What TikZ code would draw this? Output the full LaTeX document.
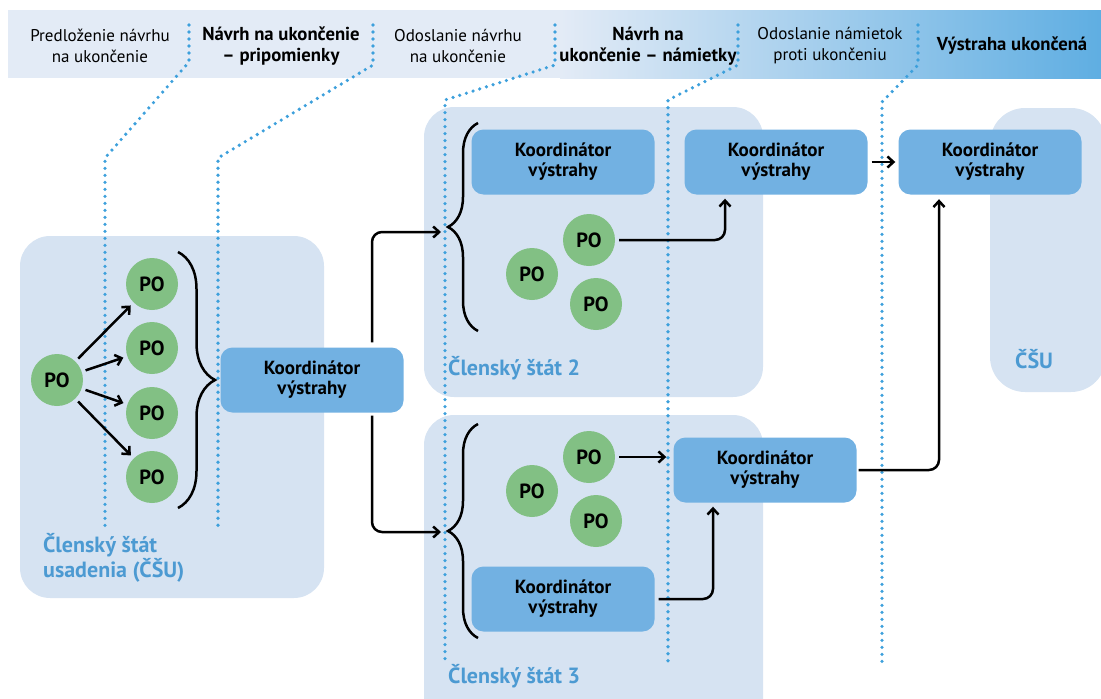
\documentclass[tikz,border=0pt]{standalone}
\usepackage{fontspec}
\setmainfont{PT Sans}
\usetikzlibrary{arrows.meta,decorations.pathreplacing}

\definecolor{hdrlight}{HTML}{E3EBF6}
\definecolor{hdrblue}{HTML}{5FAEE2}
\definecolor{statebg}{HTML}{D6E3F2}
\definecolor{koordblue}{HTML}{72B1E2}
\definecolor{pogreen}{HTML}{82C084}
\definecolor{dotblue}{HTML}{3DA0DC}
\definecolor{labelblue}{HTML}{4C9AD2}

\tikzset{
  po/.style={circle,fill=pogreen,minimum size=52pt,inner sep=0pt,font=\fontsize{20.5}{20}\selectfont\bfseries},
  koord/.style={fill=koordblue,rounded corners=12pt,minimum width=183pt,minimum height=65pt,align=center,inner sep=0pt,text depth=4pt,font=\fontsize{19}{20}\selectfont\bfseries},
  hdr/.style={align=center,font=\fontsize{17}{21}\selectfont},
  hdrbold/.style={align=center,font=\fontsize{18.7}{21}\selectfont\bfseries},
  statelabel/.style={text=labelblue,align=left,inner sep=0pt,font=\fontsize{22}{25}\selectfont\bfseries},
  sep/.style={dotblue,line width=3.6pt,line cap=round,dash pattern=on 0pt off 7pt},
  arr/.style={line width=2.5pt,-{Straight Barb[length=6pt,width=11pt]}},
  curly/.style={line width=2.5pt,decorate,decoration={brace,amplitude=#1}},
}

\begin{document}
\begin{tikzpicture}[x=1pt,y=-1pt]
\useasboundingbox (0,0) rectangle (1101,699);

% header band
\fill[hdrlight] (8,10) rectangle (561,78);
\shade[left color=hdrlight,right color=hdrblue] (560,10) rectangle (1101,78);
\node[hdr] (h1) at (100,46) {Predloženie návrhu\\na ukončenie};
\node[hdrbold] (h2) at (281,46) {Návrh na ukončenie\\– pripomienky};
\node[hdr] (h3) at (458,46) {Odoslanie návrhu\\na ukončenie};
\node[hdrbold] (h4) at (648,46) {Návrh na\\ukončenie – námietky};
\node[hdr] (h5) at (830,46) {Odoslanie námietok\\proti ukončeniu};
\node[hdrbold] (h6) at (1012,46) {Výstraha ukončená};

% member states
\fill[statebg,rounded corners=30pt] (20,236) rectangle (324,598);
\fill[statebg,rounded corners=30pt] (424,107) rectangle (763,397);
\fill[statebg,rounded corners=30pt] (424,415) rectangle (763,730);
\fill[statebg,rounded corners=35pt] (990,108) rectangle (1106,392);
\node[statelabel,anchor=north west] (lab1) at (43,533) {Členský štát\\usadenia (ČŠU)};
\node[statelabel,anchor=base west] (lab2) at (448,375) {Členský štát 2};
\node[statelabel,anchor=base west] (lab3) at (448,683) {Členský štát 3};
\node[statelabel,anchor=base west] (lab4) at (1015,368) {ČŠU};

% phase separators
\draw[sep] (189,25) -- (189,62) -- (105,158) -- (105,528);
\draw[sep] (373,25) -- (373,65) -- (218,158) -- (218,528);
\draw[sep] (555,25) -- (555,65) -- (445,100) -- (445,662);
\draw[sep] (738,25) -- (738,65) -- (668,100) -- (668,662);
\draw[sep] (918,25) -- (918,65) -- (882,102) -- (882,662);

% home member state
\node[po] (p10) at (57,380) {PO};
\node[po] (p11) at (152,284) {PO};
\node[po] (p12) at (152,348) {PO};
\node[po] (p13) at (152,413) {PO};
\node[po] (p14) at (152,477) {PO};
\foreach \t in {p11,p12,p13,p14}
  \draw[arr,shorten <=4pt,shorten >=4pt] (p10) -- (\t);
\draw[curly=37pt] (178,252) -- (178,508);
\node[koord] (k1) at (312,380) {Koordinátor\\výstrahy};

% member state 2
\node[koord] (k21) at (563,162) {Koordinátor\\výstrahy};
\node[koord] (k22) at (776,162) {Koordinátor\\výstrahy};
\node[po] (p21) at (589,240) {PO};
\node[po] (p22) at (532,274) {PO};
\node[po] (p23) at (596,304) {PO};
\draw[curly=30pt] (478,331) -- (478,123);

% member state 3
\node[po] (p31) at (589,457) {PO};
\node[po] (p32) at (532,491) {PO};
\node[po] (p33) at (596,521) {PO};
\node[koord] (k32) at (563,599) {Koordinátor\\výstrahy};
\node[koord] (k31) at (765,470) {Koordinátor\\výstrahy};
\draw[curly=30pt] (478,638) -- (478,424);

\node[koord] (kend) at (990,162) {Koordinátor\\výstrahy};

% flows
\coordinate (in2) at (441,232);
\coordinate (in3) at (441,532);
\draw[arr,rounded corners=10pt] ([xshift=60pt,yshift=5pt]k1.north) |- (in2);
\draw[arr,rounded corners=10pt] ([xshift=60pt,yshift=-3pt]k1.south) |- (in3);
\draw[arr,rounded corners=10pt,shorten >=4pt] ([xshift=4pt]p21.east) -| ([xshift=-51pt]k22.south);
\draw[arr,shorten >=7pt] ([xshift=4pt]p31.east) -- (p31.east -| k31.west);
\draw[arr,rounded corners=10pt,shorten >=4pt] ([xshift=4pt]k32.east) -| ([xshift=-52pt]k31.south);
\draw[arr,shorten <=4pt,shorten >=3pt] (k22) -- (kend);
\draw[arr,rounded corners=10pt,shorten >=4.5pt] ([xshift=2pt]k31.east) -| ([xshift=-51pt]kend.south);
\end{tikzpicture}
\end{document}
